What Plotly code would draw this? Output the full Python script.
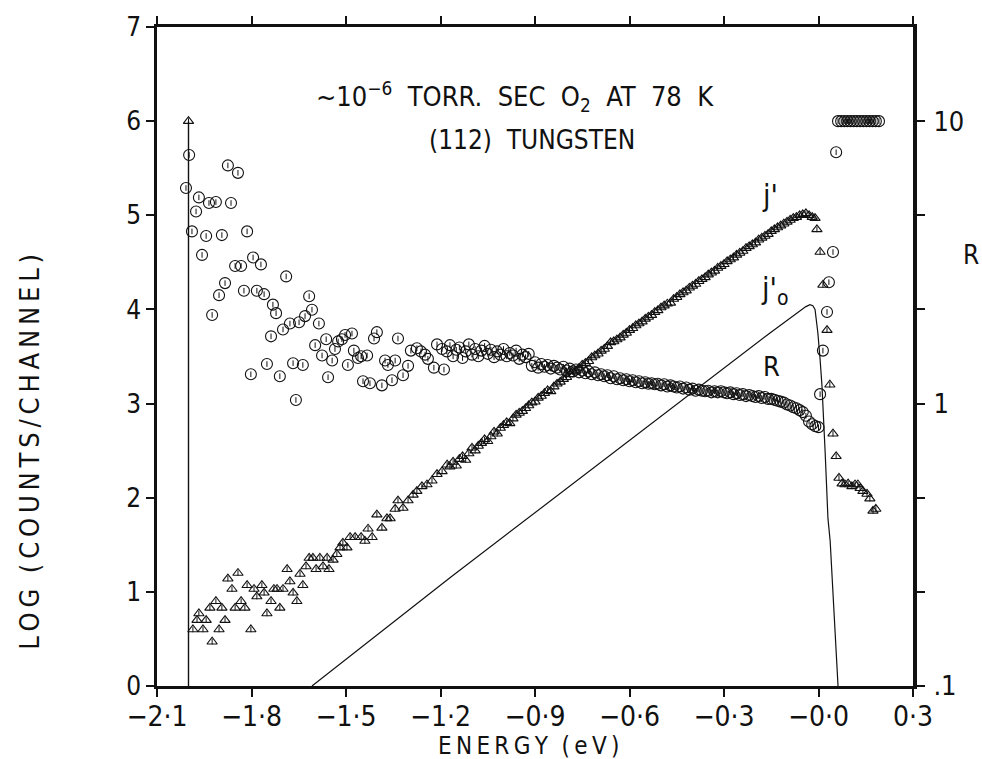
import plotly.graph_objects as go

# ---------------------------------------------------------------------------
# Field-emission energy distribution, ~1e-6 torr.sec O2 on W(112) at 78 K
# j'  : measured distribution, log10(counts/channel)     (triangles, left axis)
# j'0 : clean-surface free-electron distribution          (thin line, left axis)
# R   : enhancement ratio j'/j'0                           (circles, right log axis)
# ---------------------------------------------------------------------------

TRI_ENERGY = [
    -2.000, -1.986, -1.973, -1.967, -1.954, -1.944, -1.932, -1.925, -1.913, -1.903,
    -1.894, -1.884, -1.875, -1.862, -1.852, -1.843, -1.833, -1.821, -1.814, -1.802,
    -1.792, -1.783, -1.767, -1.760, -1.751, -1.738, -1.729, -1.719, -1.710, -1.700,
    -1.687, -1.678, -1.668, -1.656, -1.646, -1.637, -1.627, -1.617, -1.605, -1.595,
    -1.583, -1.573, -1.560, -1.554, -1.541, -1.529, -1.519, -1.510, -1.497, -1.487,
    -1.471, -1.452, -1.440, -1.430, -1.417, -1.402, -1.386, -1.370, -1.360, -1.344,
    -1.335, -1.319, -1.303, -1.287, -1.275, -1.259, -1.243, -1.227, -1.211, -1.195,
    -1.179,
    -1.17, -1.16, -1.15, -1.14, -1.13, -1.12, -1.11, -1.10, -1.09, -1.08,
    -1.07, -1.06, -1.05, -1.04, -1.03, -1.02, -1.01, -1.00, -0.99, -0.98,
    -0.97, -0.96, -0.95, -0.94, -0.93, -0.92, -0.91, -0.90, -0.89, -0.88,
    -0.87, -0.86, -0.85, -0.84, -0.83, -0.82, -0.81, -0.80, -0.79, -0.78,
    -0.77, -0.76, -0.75, -0.74, -0.73, -0.72, -0.71, -0.70, -0.69, -0.68,
    -0.67, -0.66, -0.65, -0.64, -0.63, -0.62, -0.61, -0.60, -0.59, -0.58,
    -0.57, -0.56, -0.55, -0.54, -0.53, -0.52, -0.51, -0.50, -0.49, -0.48,
    -0.47, -0.46, -0.45, -0.44, -0.43, -0.42, -0.41, -0.40, -0.39, -0.38,
    -0.37, -0.36, -0.35, -0.34, -0.33, -0.32, -0.31, -0.30, -0.29, -0.28,
    -0.27, -0.26, -0.25, -0.24, -0.23, -0.22, -0.21, -0.20, -0.19, -0.18,
    -0.17, -0.16, -0.15, -0.14, -0.13, -0.12, -0.11, -0.10, -0.09, -0.08,
    -0.07, -0.06, -0.05, -0.04, -0.03,
    -0.020, -0.011, -0.005, 0.005, 0.014, 0.027, 0.036, 0.046, 0.056, 0.065,
    0.075, 0.084, 0.094, 0.106, 0.116, 0.125, 0.132, 0.141, 0.154, 0.163,
    0.173, 0.182,
]

TRI_LOG_COUNTS = [
    6.00, 0.60, 0.70, 0.77, 0.60, 0.70, 0.83, 0.47, 0.90, 0.60,
    0.83, 0.70, 1.14, 1.03, 0.83, 1.20, 0.90, 0.83, 1.07, 0.60,
    1.03, 0.95, 1.07, 0.99, 0.77, 0.90, 1.03, 1.03, 0.83, 1.03,
    1.24, 1.11, 0.99, 0.90, 1.19, 1.07, 1.27, 1.36, 1.36, 1.24,
    1.36, 1.27, 1.36, 1.24, 1.34, 1.40, 1.47, 1.52, 1.47, 1.58,
    1.58, 1.58, 1.54, 1.67, 1.58, 1.82, 1.68, 1.78, 1.78, 1.88,
    1.97, 1.89, 1.97, 2.03, 2.07, 2.12, 2.14, 2.18, 2.25, 2.28,
    2.35,
    2.33, 2.38, 2.34, 2.41, 2.44, 2.40, 2.47, 2.53, 2.50, 2.55,
    2.58, 2.62, 2.60, 2.65, 2.70, 2.68, 2.74, 2.77, 2.80, 2.79,
    2.84, 2.88, 2.90, 2.92, 2.95, 2.98, 3.01, 3.02, 3.06, 3.08,
    3.11, 3.14, 3.13, 3.18, 3.21, 3.23, 3.26, 3.28, 3.31, 3.34,
    3.35, 3.38, 3.41, 3.43, 3.45, 3.49, 3.51, 3.53, 3.56, 3.58,
    3.61, 3.65, 3.66, 3.68, 3.70, 3.73, 3.75, 3.78, 3.80, 3.83,
    3.85, 3.87, 3.90, 3.92, 3.94, 3.97, 3.99, 4.02, 4.04, 4.06,
    4.07, 4.11, 4.13, 4.16, 4.18, 4.20, 4.23, 4.25, 4.27, 4.30,
    4.32, 4.34, 4.37, 4.39, 4.41, 4.44, 4.46, 4.48, 4.51, 4.53,
    4.55, 4.58, 4.60, 4.62, 4.65, 4.67, 4.69, 4.71, 4.74, 4.76,
    4.78, 4.80, 4.83, 4.85, 4.87, 4.89, 4.91, 4.93, 4.95, 4.97,
    4.98, 5.00, 5.01, 5.02, 5.00,
    4.98, 4.97, 4.85, 4.61, 4.26, 3.78, 3.20, 2.68, 2.44, 2.21,
    2.15, 2.14, 2.15, 2.12, 2.14, 2.14, 2.10, 2.07, 2.04, 1.99,
    1.86, 1.88,
]

CIRCLE_ENERGY = [
    -2.008, -1.998, -1.989, -1.976, -1.967, -1.957, -1.944, -1.935, -1.925, -1.913,
    -1.903, -1.894, -1.884, -1.875, -1.865, -1.852, -1.843, -1.833, -1.824, -1.814,
    -1.802, -1.795, -1.783, -1.770, -1.760, -1.751, -1.738, -1.732, -1.722, -1.710,
    -1.700, -1.690, -1.678, -1.668, -1.659, -1.649, -1.637, -1.630, -1.617, -1.608,
    -1.598, -1.586, -1.576, -1.563, -1.557, -1.544, -1.535, -1.525, -1.513, -1.503,
    -1.494, -1.481, -1.475, -1.462, -1.452, -1.446, -1.433, -1.424, -1.411, -1.402,
    -1.386, -1.376, -1.367, -1.354, -1.344, -1.335, -1.319, -1.303, -1.294, -1.275,
    -1.262, -1.249, -1.240, -1.221, -1.211, -1.195, -1.189,
    -1.18, -1.17, -1.16, -1.15, -1.14, -1.13, -1.12, -1.11, -1.10, -1.09,
    -1.08, -1.07, -1.06, -1.05, -1.04, -1.03, -1.02, -1.01, -1.00, -0.99,
    -0.98, -0.97, -0.96, -0.95, -0.94, -0.93, -0.92, -0.91, -0.90, -0.89,
    -0.88, -0.87, -0.86, -0.85, -0.84, -0.83, -0.82, -0.81, -0.80, -0.79,
    -0.78, -0.77, -0.76, -0.75, -0.74, -0.73, -0.72, -0.71, -0.70, -0.69,
    -0.68, -0.67, -0.66, -0.65, -0.64, -0.63, -0.62, -0.61, -0.60, -0.59,
    -0.58, -0.57, -0.56, -0.55, -0.54, -0.53, -0.52, -0.51, -0.50, -0.49,
    -0.48, -0.47, -0.46, -0.45, -0.44, -0.43, -0.42, -0.41, -0.40, -0.39,
    -0.38, -0.37, -0.36, -0.35, -0.34, -0.33, -0.32, -0.31, -0.30, -0.29,
    -0.28, -0.27, -0.26, -0.25, -0.24, -0.23, -0.22, -0.21, -0.20, -0.19,
    -0.18, -0.17, -0.16, -0.15, -0.14, -0.13, -0.12, -0.11, -0.10, -0.09,
    -0.08, -0.07, -0.06, -0.05, -0.04, -0.03, -0.02, -0.01, 0.00,
    0.005, 0.014, 0.027, 0.033, 0.046, 0.056,
    0.062, 0.072, 0.082, 0.092, 0.102, 0.112, 0.122, 0.132, 0.142, 0.152,
    0.162, 0.172, 0.182, 0.192,
]

CIRCLE_R = [
    5.80, 7.59, 4.07, 4.79, 5.37, 3.36, 3.92, 5.13, 2.06, 5.17,
    2.42, 3.95, 2.67, 6.97, 5.13, 3.07, 6.56, 3.07, 2.51, 4.07,
    1.27, 3.29, 2.51, 3.11, 2.44, 1.38, 1.73, 2.24, 2.09, 1.25,
    1.83, 2.82, 1.92, 1.39, 1.03, 1.94, 1.37, 2.04, 2.40, 2.15,
    1.61, 1.92, 1.48, 1.69, 1.24, 1.42, 1.56, 1.66, 1.69, 1.75,
    1.37, 1.77, 1.54, 1.45, 1.47, 1.20, 1.48, 1.18, 1.70, 1.79,
    1.16, 1.42, 1.37, 1.21, 1.42, 1.70, 1.26, 1.36, 1.54, 1.57,
    1.53, 1.49, 1.44, 1.34, 1.62, 1.56, 1.32,
    1.53, 1.61, 1.47, 1.55, 1.58, 1.45, 1.53, 1.62, 1.49, 1.56,
    1.47, 1.54, 1.60, 1.50, 1.55, 1.46, 1.53, 1.49, 1.56, 1.47,
    1.51, 1.48, 1.54, 1.44, 1.49, 1.46, 1.50, 1.36, 1.40, 1.34,
    1.38, 1.35, 1.37, 1.33, 1.36, 1.34, 1.32, 1.35, 1.31, 1.33,
    1.30, 1.32, 1.29, 1.31, 1.28, 1.30, 1.27, 1.29, 1.26, 1.27,
    1.25, 1.26, 1.23, 1.25, 1.22, 1.23, 1.21, 1.22, 1.20, 1.21,
    1.19, 1.20, 1.18, 1.19, 1.175, 1.18, 1.17, 1.175, 1.16, 1.17,
    1.15, 1.16, 1.15, 1.14, 1.15, 1.13, 1.14, 1.12, 1.13, 1.11,
    1.12, 1.11, 1.105, 1.11, 1.096, 1.105, 1.096, 1.105, 1.096, 1.088,
    1.096, 1.080, 1.088, 1.072, 1.080, 1.063, 1.072, 1.063, 1.055, 1.063,
    1.047, 1.055, 1.039, 1.039, 1.031, 1.023, 1.016, 1.008, 0.992, 0.985,
    0.970, 0.962, 0.948, 0.933, 0.905, 0.864, 0.845, 0.832, 0.825,
    1.08, 1.54, 2.11, 2.69, 3.44, 7.76,
    10.0, 10.0, 10.0, 10.0, 10.0, 10.0, 10.0, 10.0, 10.0, 10.0,
    10.0, 10.0, 10.0, 10.0,
]

J0_ENERGY = [-1.608, -1.170, -0.154, -0.060, -0.040, -0.027, -0.018, -0.011,
             -0.005, -0.002, 0.005, 0.011, 0.021, 0.030, 0.037, 0.062]
J0_LOG_COUNTS = [0.00, 1.15, 3.75, 3.98, 4.03, 4.05, 4.04, 4.00,
                 3.86, 3.75, 3.47, 3.19, 2.49, 1.78, 1.54, 0.00]

# low-energy cut-off marker
CUTOFF_ENERGY = [-2.0, -2.0]
CUTOFF_LOG_COUNTS = [0.0, 6.0]

X_TICKS = [-2.1, -1.8, -1.5, -1.2, -0.9, -0.6, -0.3, 0.0, 0.3]
X_TICK_TEXT = ["−2·1", "−1·8", "−1·5", "−1·2", "−0·9",
               "−0·6", "−0·3", "−0·0", "0·3"]
Y_TICKS = [0, 1, 2, 3, 4, 5, 6, 7]
R_TICKS = [0.1, 1, 10]
R_TICK_TEXT = [".1", "1", "10"]
R_MINOR_TICKS = [0.2154, 0.4642, 2.154, 4.642]

FONT = "DejaVu Sans Condensed, DejaVu Sans, Liberation Sans, sans-serif"
INK = "#111111"
CLEAR = "rgba(0,0,0,0)"
THIN = "\u2009"


def spaced(text):
    """Letter-space a label the way the hand lettering is spread out."""
    return THIN.join(text)


fig = go.Figure()

fig.add_trace(go.Scatter(
    x=CUTOFF_ENERGY, y=CUTOFF_LOG_COUNTS, mode="lines",
    line=dict(color=INK, width=1.4), showlegend=False, hoverinfo="skip"))

fig.add_trace(go.Scatter(
    x=J0_ENERGY, y=J0_LOG_COUNTS, mode="lines",
    line=dict(color=INK, width=1.2), showlegend=False, name="j'0"))

fig.add_trace(go.Scatter(
    x=TRI_ENERGY, y=TRI_LOG_COUNTS, mode="markers", name="j'",
    marker=dict(symbol="triangle-up", size=9, color=CLEAR,
                line=dict(color=INK, width=1.1)),
    showlegend=False))
fig.add_trace(go.Scatter(
    x=TRI_ENERGY, y=TRI_LOG_COUNTS, mode="markers", hoverinfo="skip",
    marker=dict(symbol="line-ns", size=4, color=INK, line=dict(color=INK, width=1)),
    showlegend=False))

fig.add_trace(go.Scatter(
    x=CIRCLE_ENERGY, y=CIRCLE_R, mode="markers", name="R", yaxis="y2",
    marker=dict(symbol="circle", size=11, color=CLEAR,
                line=dict(color=INK, width=1.1)),
    showlegend=False))
fig.add_trace(go.Scatter(
    x=CIRCLE_ENERGY, y=CIRCLE_R, mode="markers", yaxis="y2", hoverinfo="skip",
    marker=dict(symbol="line-ns", size=4, color=INK, line=dict(color=INK, width=1)),
    showlegend=False))

PLOT_L, PLOT_R, PLOT_T, PLOT_B = 157, 913, 22, 686


def px(x):
    return (x - PLOT_L) / (PLOT_R - PLOT_L)


def py(y):
    return (PLOT_B - y) / (PLOT_B - PLOT_T)


notes = [
    dict(text="~10<sup>−6</sup>  TORR.  SEC  O<sub>2</sub>  AT  78  K", x=px(515), y=py(92), size=27),
    dict(text="(112)  TUNGSTEN", x=px(532), y=py(136), size=26),
    dict(text="j'", x=px(770), y=py(192), size=30),
    dict(text="j'<sub>o</sub>", x=px(774), y=py(287), size=30),
    dict(text="R", x=px(771), y=py(364), size=27),
    dict(text="R", x=px(971), y=py(252), size=26),
    dict(text=spaced("ENERGY") + "  " + spaced("(eV)"), x=px(528), y=py(746), size=24),
]
annotations = [
    dict(text=n["text"], x=n["x"], y=n["y"], xref="paper", yref="paper",
         showarrow=False, xanchor="center", yanchor="middle",
         font=dict(family=FONT, size=n["size"], color=INK))
    for n in notes
]
annotations.append(dict(
    text=spaced("LOG") + "  " + spaced("(COUNTS/CHANNEL)"),
    x=px(30), y=py(450), xref="paper", yref="paper",
    showarrow=False, textangle=-90, xanchor="center", yanchor="middle",
    font=dict(family=FONT, size=27, color=INK)))

fig.update_layout(
    template="simple_white",
    width=982, height=759,
    margin=dict(l=PLOT_L, r=982 - PLOT_R, t=PLOT_T, b=759 - PLOT_B, pad=0),
    paper_bgcolor="white", plot_bgcolor="white",
    font=dict(family=FONT, color=INK),
    annotations=annotations,
    xaxis=dict(
        range=[-2.1, 0.3], tickvals=X_TICKS, ticktext=X_TICK_TEXT,
        showgrid=False, zeroline=False, showline=True, linecolor=INK,
        linewidth=3, mirror="allticks", ticks="outside", ticklen=8,
        tickwidth=1.5, tickcolor=INK, ticklabelstandoff=-5,
        tickfont=dict(size=28, family=FONT, color=INK)),
    yaxis=dict(
        range=[0, 7], tickvals=Y_TICKS, showgrid=False, zeroline=False,
        showline=True, linecolor=INK, linewidth=2.5, mirror=False,
        ticks="outside", ticklen=8, tickwidth=1.5, tickcolor=INK,
        tickfont=dict(size=26, family=FONT, color=INK)),
    yaxis2=dict(
        overlaying="y", side="right", type="log", range=[-1, 4 / 3],
        tickvals=R_TICKS, ticktext=R_TICK_TEXT, showgrid=False,
        zeroline=False, showline=True, linecolor=INK, linewidth=4,
        ticks="outside", ticklen=8, tickwidth=1.5, tickcolor=INK,
        minor=dict(tickvals=R_MINOR_TICKS, ticks="outside", ticklen=8,
                   tickwidth=1.5, tickcolor=INK, showgrid=False),
        ticklabelstandoff=3, tickfont=dict(size=27, family=FONT, color=INK)),
)

fig.write_html("out.html")
